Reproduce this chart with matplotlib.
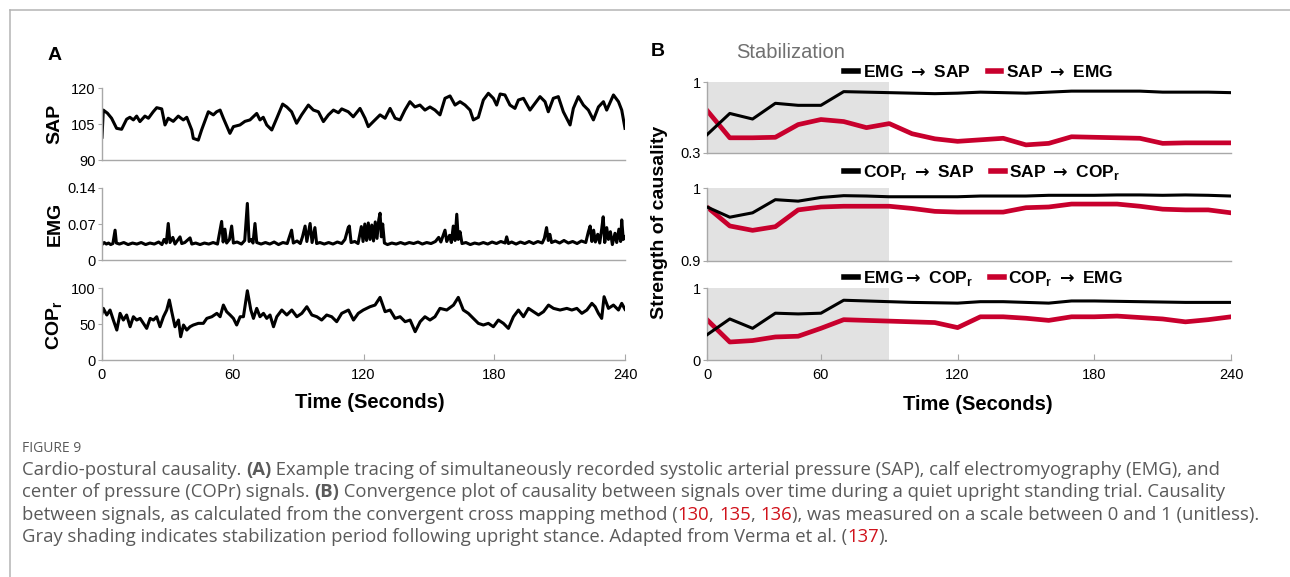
import numpy as np
import matplotlib
matplotlib.use('Agg')
import matplotlib.pyplot as plt
from matplotlib.lines import Line2D

plt.rcParams['font.family'] = ['Liberation Sans', 'DejaVu Sans']
plt.rcParams['mathtext.fontset'] = 'custom'
plt.rcParams['mathtext.rm'] = 'Liberation Sans'
plt.rcParams['mathtext.bf'] = 'Liberation Sans:bold'
plt.rcParams['mathtext.sf'] = 'DejaVu Sans:bold'

W, H = 1290, 577
RED = '#c8002d'
SPINE = '#a8a8a8'

# ---- panel A: raw signals (time in s) ----
sap_t = [0, 0.6, 2.5, 4.4, 6.7, 9.0, 11.3, 12.8, 14.4, 15.9, 17.4, 19.7, 21.3, 23.5, 25.1,
         27.4, 28.9, 30.4, 32.7, 35.0, 37.3, 38.9, 41.2, 41.9, 44.2, 45.7, 48.8, 51.1, 52.6,
         54.2, 55.7, 58.7, 60.3, 63.3, 65.6, 67.9, 71.0, 72.5, 74.0, 75.6, 77.9, 80.2, 82.9,
         84.8, 87.0, 89.3, 91.6, 94.7, 97.0, 99.3, 101.6, 103.9, 106.2, 108.5, 110.0, 113.0,
         115.3, 118.4, 120.7, 122.2, 124.5, 127.6, 129.9, 132.2, 134.5, 136.8, 139.0, 141.3,
         143.6, 145.9, 148.2, 150.5, 152.8, 155.1, 157.4, 159.7, 162.0, 164.3, 166.6, 168.9,
         170.4, 172.7, 175.0, 177.3, 179.6, 181.1, 182.7, 184.9, 187.2, 189.5, 191.1, 193.4,
         196.4, 198.7, 201.0, 203.3, 204.8, 207.1, 209.4, 211.7, 214.8, 216.3, 218.6, 220.9,
         223.2, 225.5, 227.8, 230.1, 231.6, 234.7, 237.0, 238.5, 240.0]
sap = [99.5, 110.8, 109.5, 107.4, 103.2, 102.8, 107.0, 107.8, 106.7, 108.3, 106.0, 108.3,
       107.4, 110.1, 111.8, 111.3, 104.6, 107.4, 106.1, 108.3, 106.7, 107.8, 102.5, 99.0,
       98.3, 102.5, 110.1, 108.8, 110.1, 110.8, 107.4, 101.1, 103.9, 104.6, 106.1, 106.7,
       109.4, 106.7, 107.8, 104.6, 102.5, 107.4, 113.3, 112.1, 110.1, 105.3, 108.8, 112.9,
       110.8, 110.1, 106.0, 108.8, 110.8, 109.7, 111.3, 110.1, 108.0, 111.5, 107.4, 103.9,
       106.0, 108.8, 107.4, 111.5, 107.4, 106.7, 110.8, 114.3, 112.1, 112.9, 110.8, 112.1,
       110.8, 108.8, 115.7, 116.7, 112.9, 114.3, 112.9, 110.8, 106.7, 107.8, 115.0, 117.8,
       115.7, 112.9, 117.5, 117.1, 112.9, 111.5, 115.0, 115.7, 110.8, 113.6, 116.4, 114.3,
       110.1, 115.7, 116.4, 110.1, 104.6, 111.5, 116.4, 112.9, 110.8, 106.7, 112.1, 114.3,
       110.8, 117.1, 114.3, 110.8, 103.2]

emg_t = [0, 1, 2, 3, 4, 5, 6, 6.6, 8, 10, 12, 14, 16, 18, 20, 22, 24, 26, 27.5, 28.5, 29.5,
         30.4, 31.2, 32.5, 33.5, 35.8, 36.6, 38, 40.4, 41.2, 43, 45, 47, 49, 51, 53, 54.9, 55.6,
         56.4, 57.2, 58.5, 59.5, 60.3, 62, 64, 65.5, 66.7, 67.5, 68.5, 69.3, 70.2, 71, 73, 75,
         77, 79, 81, 83, 85, 87, 87.8, 89.5, 91, 92, 93.2, 94, 95.5, 96.4, 97.7, 98.5, 100, 102,
         104, 106, 108, 110, 111.5, 113, 113.5, 114.3, 116, 117.5, 119, 119.8, 120.6, 121.4,
         122.2, 123, 123.8, 124.6, 125.4, 126.2, 127, 127.6, 128.2, 128.8, 129.6, 131, 133, 135,
         137, 139, 141, 143, 145, 147, 149, 151, 153, 154.5, 155.5, 157.4, 158.2, 159.5, 160.3,
         161.2, 162, 162.8, 163.5, 164.3, 165.2, 167, 169, 171, 173, 175, 177, 179, 181, 183,
         185, 185.7, 186.5, 188, 190, 192, 194, 196, 198, 200, 202, 203, 204, 204.8, 205.5,
         206.3, 208, 210, 212, 214, 216, 218, 220, 222, 223.2, 224, 224.8, 225.6, 226.4, 227.5,
         228.4, 229.3, 230, 230.7, 231.6, 232.4, 233.3, 234.2, 235.4, 236.2, 237.2, 238, 238.5,
         239.2, 240]
emg = [0.030, 0.034, 0.031, 0.033, 0.030, 0.032, 0.058, 0.033, 0.031, 0.034, 0.030, 0.033,
       0.031, 0.034, 0.030, 0.033, 0.031, 0.035, 0.030, 0.040, 0.033, 0.071, 0.034, 0.044,
       0.031, 0.045, 0.032, 0.034, 0.043, 0.031, 0.033, 0.030, 0.033, 0.031, 0.034, 0.031,
       0.075, 0.035, 0.060, 0.033, 0.040, 0.066, 0.033, 0.035, 0.031, 0.038, 0.110, 0.036,
       0.040, 0.033, 0.071, 0.034, 0.031, 0.034, 0.031, 0.035, 0.030, 0.034, 0.032, 0.058,
       0.033, 0.037, 0.032, 0.045, 0.066, 0.036, 0.071, 0.034, 0.063, 0.032, 0.034, 0.031,
       0.034, 0.031, 0.035, 0.032, 0.040, 0.063, 0.066, 0.034, 0.036, 0.032, 0.065, 0.036,
       0.070, 0.038, 0.072, 0.040, 0.068, 0.037, 0.074, 0.042, 0.078, 0.091, 0.045, 0.070,
       0.033, 0.030, 0.033, 0.031, 0.034, 0.031, 0.034, 0.032, 0.035, 0.031, 0.034, 0.032,
       0.036, 0.044, 0.035, 0.058, 0.036, 0.048, 0.034, 0.066, 0.038, 0.089, 0.040, 0.055,
       0.032, 0.034, 0.030, 0.033, 0.031, 0.034, 0.031, 0.035, 0.032, 0.036, 0.033, 0.045,
       0.032, 0.035, 0.031, 0.035, 0.032, 0.036, 0.032, 0.036, 0.033, 0.042, 0.063, 0.038,
       0.050, 0.034, 0.037, 0.033, 0.038, 0.033, 0.036, 0.032, 0.037, 0.034, 0.055, 0.066,
       0.036, 0.058, 0.035, 0.050, 0.033, 0.060, 0.084, 0.034, 0.063, 0.040, 0.055, 0.030,
       0.052, 0.034, 0.060, 0.036, 0.078, 0.040, 0.045]

cop_t = [0.0, 0.6, 2.2, 3.7, 5.2, 6.8, 8.3, 9.8, 11.3, 12.9, 14.4, 15.9, 17.5, 19.0, 20.5,
         22.1, 23.6, 25.1, 26.6, 28.2, 29.7, 30.9, 32.0, 33.5, 35.1, 36.1, 37.4, 38.9, 40.4,
         41.9, 44.2, 46.5, 48.1, 50.4, 52.7, 54.2, 55.7, 57.2, 58.8, 60.3, 61.8, 63.4, 64.9,
         66.7, 68.3, 69.5, 71.0, 72.5, 74.1, 75.6, 77.1, 78.7, 80.2, 82.5, 84.8, 87.1, 89.4,
         91.7, 94.0, 96.3, 98.6, 100.8, 103.1, 105.4, 107.7, 110.0, 113.1, 115.4, 117.6, 119.9,
         123.0, 125.3, 127.6, 129.9, 132.2, 134.5, 136.8, 139.1, 141.4, 143.7, 146.0, 148.2,
         150.5, 152.8, 155.1, 158.2, 161.3, 163.5, 165.8, 168.1, 170.4, 172.7, 175.0, 177.3,
         179.6, 181.9, 184.2, 186.5, 188.8, 191.1, 193.4, 195.7, 198.0, 200.3, 202.6, 204.9,
         207.2, 210.2, 213.3, 215.6, 217.9, 220.2, 222.5, 224.8, 226.3, 227.8, 229.3, 230.4,
         232.4, 234.7, 237.0, 238.5, 240.0]
cop = [64.8, 71.7, 62.5, 69.4, 55.5, 41.6, 64.8, 55.5, 62.5, 46.2, 60.1, 55.5, 57.8, 50.9,
       43.9, 57.8, 55.5, 60.1, 46.2, 60.1, 69.4, 83.3, 67.1, 46.2, 55.5, 32.3, 48.6, 41.6,
       46.2, 48.6, 50.9, 50.9, 57.8, 60.1, 64.8, 60.1, 76.3, 67.1, 62.5, 57.8, 48.6, 60.1,
       60.1, 96.2, 69.4, 57.8, 71.7, 60.1, 64.8, 57.8, 62.5, 46.2, 60.1, 69.4, 62.5, 69.4,
       60.1, 64.8, 74.0, 62.5, 60.1, 55.5, 62.5, 60.1, 53.2, 64.8, 69.4, 55.5, 64.8, 69.4,
       74.0, 76.3, 87.0, 67.1, 69.4, 57.8, 60.1, 53.2, 55.5, 39.3, 53.2, 60.1, 55.5, 60.1,
       71.7, 69.4, 76.3, 87.0, 69.4, 64.8, 57.8, 50.9, 48.6, 50.9, 46.2, 55.5, 50.9, 43.9,
       60.1, 69.4, 60.1, 71.7, 67.1, 62.5, 67.1, 76.3, 71.7, 69.4, 71.7, 69.4, 71.7, 64.8,
       69.4, 78.7, 74.0, 64.8, 57.8, 87.9, 71.7, 76.3, 69.4, 78.7, 70.3]

# ---- panel B: convergence of causality ----
win_t = [10, 20, 30, 40, 50, 60, 70, 80, 90, 100, 110, 120, 130, 140, 150, 160, 170, 180,
         190, 200, 210, 220, 230, 240]
emg_to_sap = [0.48, 0.69, 0.635, 0.79, 0.77, 0.77, 0.905, 0.90, 0.895, 0.89, 0.885, 0.89,
              0.90, 0.895, 0.89, 0.90, 0.91, 0.91, 0.91, 0.91, 0.90, 0.90, 0.90, 0.895]
sap_to_emg = [0.72, 0.45, 0.45, 0.455, 0.58, 0.63, 0.61, 0.55, 0.59, 0.49, 0.44, 0.415,
              0.43, 0.445, 0.38, 0.395, 0.46, 0.455, 0.45, 0.445, 0.395, 0.40, 0.40, 0.40]
cop_to_sap = [0.974, 0.960, 0.966, 0.984, 0.982, 0.987, 0.9895, 0.989, 0.988, 0.988, 0.988,
              0.988, 0.989, 0.989, 0.989, 0.990, 0.990, 0.990, 0.9905, 0.9905, 0.990, 0.9905,
              0.990, 0.989]
sap_to_cop = [0.974, 0.948, 0.942, 0.947, 0.970, 0.974, 0.975, 0.975, 0.975, 0.972, 0.968,
              0.967, 0.967, 0.967, 0.973, 0.974, 0.978, 0.978, 0.978, 0.975, 0.971, 0.970,
              0.970, 0.966]
emg_to_cop = [0.35, 0.57, 0.44, 0.65, 0.64, 0.65, 0.83, 0.82, 0.81, 0.80, 0.795, 0.79, 0.81,
              0.81, 0.80, 0.79, 0.82, 0.82, 0.815, 0.81, 0.805, 0.80, 0.80, 0.80]
cop_to_emg = [0.56, 0.25, 0.27, 0.32, 0.33, 0.44, 0.56, 0.55, 0.54, 0.53, 0.52, 0.45, 0.60,
              0.60, 0.58, 0.55, 0.60, 0.60, 0.61, 0.59, 0.57, 0.53, 0.56, 0.60]
stab_end = 90
b_ticks = [10, 60, 120, 180, 240]
b_ticklabels = ['0', '60', '120', '180', '240']

ARW = r'$\mathsf{\rightarrow}$'
COPR = r'COP$_\mathbf{r}$'


def X(px):
    return px / W


def Y(py):
    return 1 - py / H


def box(left, top, right, bottom):
    return [X(left), Y(bottom), (right - left) / W, (bottom - top) / H]


def style(ax):
    for s in ['top', 'right']:
        ax.spines[s].set_visible(False)
    for s in ['left', 'bottom']:
        ax.spines[s].set_color(SPINE)
        ax.spines[s].set_linewidth(1.0)
    ax.tick_params(axis='y', direction='out', length=3, color=SPINE, labelsize=10.5, pad=1.5)
    ax.tick_params(axis='x', direction='in', length=4, color=SPINE, labelsize=10.5, pad=6)


fig = plt.figure(figsize=(W / 100, H / 100), dpi=100)

# panel A
a_rows = [(88, 160, sap_t, sap, (90, 120), [90, 105, 120], ['90', '105', '120']),
          (188, 260, emg_t, emg, (0, 0.14), [0, 0.07, 0.14], ['0', '0.07', '0.14']),
          (288, 360, cop_t, cop, (0, 100), [0, 50, 100], ['0', '50', '100'])]
for i, (top, bot, t, v, lim, ticks, labels) in enumerate(a_rows):
    ax = fig.add_axes(box(102, top, 625, bot))
    ax.plot(t, v, color='black', lw=2.2, solid_joinstyle='round')
    ax.set_xlim(0, 240)
    ax.set_ylim(*lim)
    ax.set_yticks(ticks)
    ax.set_yticklabels(labels)
    style(ax)
    if i < 2:
        ax.set_xticks([])
    else:
        ax.set_xticks([0, 60, 120, 180, 240])

# panel B
b_rows = [(82, 153, emg_to_sap, sap_to_emg, (0.3, 1), ['0.3', '1'],
           ['EMG ' + ARW + ' SAP', 'SAP ' + ARW + ' EMG'], 1.03),
          (188, 261, cop_to_sap, sap_to_cop, (0.9, 1), ['0.9', '1'],
           [COPR + ' ' + ARW + ' SAP', 'SAP ' + ARW + ' ' + COPR], 1.08),
          (288, 360, emg_to_cop, cop_to_emg, (0, 1), ['0', '1'],
           ['EMG' + ARW + ' ' + COPR, COPR + ' ' + ARW + ' EMG'], 1.0)]
for i, (top, bot, k, r, lim, labels, names, ly) in enumerate(b_rows):
    ax = fig.add_axes(box(707, top, 1231, bot))
    ax.axvspan(win_t[0], stab_end, color='#e2e2e2', lw=0, zorder=0)
    ax.plot(win_t, k, color='black', lw=2.2, zorder=3)
    ax.plot(win_t, r, color=RED, lw=3.4, zorder=2)
    ax.set_xlim(win_t[0], 240)
    ax.set_ylim(*lim)
    ax.set_yticks(lim)
    ax.set_yticklabels(labels)
    style(ax)
    if i < 2:
        ax.set_xticks([])
    else:
        ax.set_xticks(b_ticks)
        ax.set_xticklabels(b_ticklabels)
    handles = [Line2D([], [], color='black', lw=4), Line2D([], [], color=RED, lw=4)]
    ax.legend(handles, names, loc='lower left', bbox_to_anchor=(0.262, ly), ncol=2,
              frameon=False, handlelength=0.8, handletextpad=0.25, columnspacing=1.0,
              borderaxespad=0, borderpad=0, prop={'weight': 'bold', 'size': 12.5})

# labels
bold = dict(fontweight='bold', ha='center', va='center')
fig.text(X(55), Y(55), 'A', fontsize=14, **bold)
fig.text(X(658), Y(52), 'B', fontsize=14, **bold)
fig.text(X(55), Y(124), 'SAP', rotation=90, fontsize=14, **bold)
fig.text(X(55), Y(224), 'EMG', rotation=90, fontsize=14, **bold)
fig.text(X(55), Y(325), COPR, rotation=90, fontsize=14, **bold)
fig.text(X(370), Y(403), 'Time (Seconds)', fontsize=14.5, **bold)
fig.text(X(978), Y(405), 'Time (Seconds)', fontsize=14.5, **bold)
fig.text(X(660), Y(222), 'Strength of causality', rotation=90, fontsize=14, **bold)
fig.text(X(736), Y(52), 'Stabilization', fontsize=14.5, color='#707070', va='center')

# frame lines of the figure box
fig.add_artist(Line2D([X(10), X(10)], [Y(10), 0], color='#b4b4b4', lw=1.1))
fig.add_artist(Line2D([X(10), 1], [Y(10), Y(10)], color='#b4b4b4', lw=1.1))

# caption
GREY = '#5a5a5a'
CRED = '#d0121b'
CAP = 13.3


def runs(x, y, parts):
    rend = fig.canvas.get_renderer()
    for s, color, weight in parts:
        t = fig.text(x, y, s, color=color, fontweight=weight, fontsize=CAP,
                     family='Open Sans', va='baseline')
        x += t.get_window_extent(rend).width / W


fig.text(X(22), Y(452), 'FIGURE 9', color=GREY, fontsize=10, family='Open Sans', va='baseline')
runs(X(22), Y(475), [('Cardio-postural causality. ', GREY, 'normal'), ('(A)', GREY, 'bold'),
                     (' Example tracing of simultaneously recorded systolic arterial pressure (SAP), '
                      'calf electromyography (EMG), and', GREY, 'normal')])
runs(X(22), Y(497), [('center of pressure (COPr) signals. ', GREY, 'normal'), ('(B)', GREY, 'bold'),
                     (' Convergence plot of causality between signals over time during a quiet '
                      'upright standing trial. Causality', GREY, 'normal')])
runs(X(22), Y(520), [('between signals, as calculated from the convergent cross mapping method (',
                      GREY, 'normal'), ('130', CRED, 'normal'), (', ', GREY, 'normal'),
                     ('135', CRED, 'normal'), (', ', GREY, 'normal'), ('136', CRED, 'normal'),
                     ('), was measured on a scale between 0 and 1 (unitless).', GREY, 'normal')])
runs(X(22), Y(542), [('Gray shading indicates stabilization period following upright stance. '
                      'Adapted from Verma et al. (', GREY, 'normal'), ('137', CRED, 'normal'),
                     (').', GREY, 'normal')])

fig.savefig('out.png', dpi=100)
